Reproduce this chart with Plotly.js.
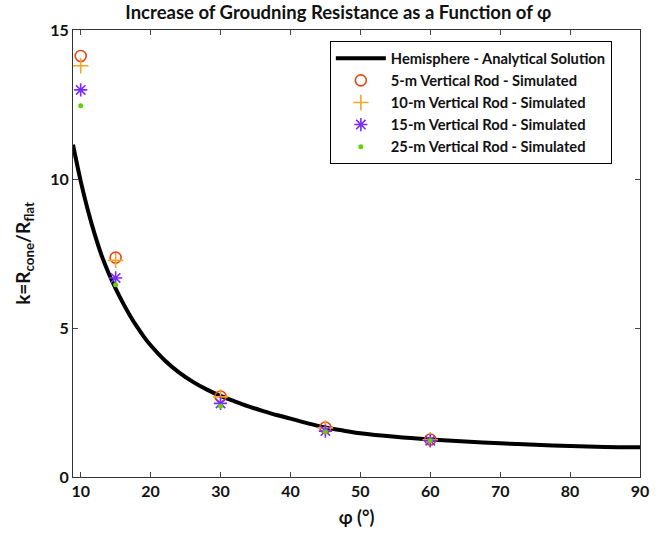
<!DOCTYPE html>
<html>
<head>
<meta charset="utf-8">
<script src="https://cdn.plot.ly/plotly-3.0.1.min.js"></script>
<style>html,body{margin:0;padding:0;background:#fff;}#chart{width:670px;height:535px;}</style>
</head>
<body>
<div id="chart"></div>
<script>
// Analytical curve
const phiCurve = [8.9, 10, 11, 12, 13, 14, 15, 16, 17, 18, 19, 20, 22, 24, 26, 28, 30, 32, 34, 36, 38, 40, 42.5, 45, 47.5, 50, 55, 60, 65, 70, 75, 80, 85, 90];
const kCurve   = [11.15, 9.93, 8.98, 8.15, 7.43, 6.84, 6.32, 5.86, 5.44, 5.06, 4.72, 4.42, 3.92, 3.52, 3.20, 2.94, 2.72, 2.54, 2.37, 2.22, 2.08, 1.96, 1.80, 1.66, 1.56, 1.47, 1.35, 1.26, 1.19, 1.13, 1.08, 1.04, 1.01, 1.00];

// Simulated points
const phiSim = [10, 15, 30, 45, 60];
const k5m  = [14.13, 7.36, 2.70, 1.66, 1.26];
const k10m = [13.80, 7.27, 2.69, 1.65, 1.25];
const k15m = [12.99, 6.68, 2.47, 1.54, 1.22];
const k25m = [12.46, 6.45, 2.37, 1.52, 1.22];

const names = ['Hemisphere - Analytical Solution', '5-m Vertical Rod - Simulated', '10-m Vertical Rod - Simulated', '15-m Vertical Rod - Simulated', '25-m Vertical Rod - Simulated'];
const xTicks = [10, 20, 30, 40, 50, 60, 70, 80, 90];
const yTicks = [0, 5, 10, 15];

const font = "Lato, 'Open Sans', sans-serif";

const traces = [
  {x: phiCurve, y: kCurve, mode: 'lines', name: names[0], line: {color: '#000', width: 4, shape: 'spline', smoothing: 0.8}},
  {x: phiSim, y: k5m, mode: 'markers', name: names[1], marker: {symbol: 'circle-open', size: 11, color: '#E8461A', line: {width: 1.6}}},
  {x: phiSim, y: k10m, mode: 'markers', name: names[2], marker: {symbol: 'cross-thin-open', size: 11, color: '#F5A623', line: {width: 1.6, color: '#F5A623'}}},
  {x: phiSim, y: k15m, mode: 'markers', name: names[3], marker: {symbol: 'asterisk-open', size: 11, color: '#7B2BFF', line: {width: 1.6, color: '#7B2BFF'}}},
  {x: phiSim, y: k25m, mode: 'markers', name: names[4], marker: {symbol: 'circle', size: 5, color: '#5FD400'}}
];

const layout = {
  width: 670, height: 535,
  margin: {l: 73, r: 30, t: 30, b: 57.5},
  paper_bgcolor: '#fff', plot_bgcolor: '#fff',
  font: {family: font, color: '#222', size: 15},
  title: {text: 'Increase of Groudning Resistance as a Function of φ', font: {family: font, size: 18.5, color: '#111', weight: 700}, x: 0.505, xanchor: 'center', y: 0.988, yanchor: 'top'},
  showlegend: true,
  legend: {x: 0.453, y: 0.975, xanchor: 'left', yanchor: 'top', bordercolor: '#000', borderwidth: 1, bgcolor: '#fff',
           font: {family: font, size: 14.7, color: '#111', weight: 700}, tracegroupgap: 0, itemwidth: 50},
  xaxis: {range: [8.9, 90], tickvals: xTicks, ticks: 'inside', ticklen: 5, tickcolor: '#444', showgrid: false, zeroline: false,
          showline: true, linecolor: '#333', linewidth: 1, mirror: 'ticks',
          tickfont: {family: font, size: 16, weight: 700, color: '#111'},
          title: {text: 'φ (°)', font: {family: font, size: 18, weight: 700, color: '#111'}, standoff: 12}},
  yaxis: {range: [0, 15], tickvals: yTicks, ticks: 'inside', ticklen: 5, tickcolor: '#444', showgrid: false, zeroline: false,
          showline: true, linecolor: '#333', linewidth: 1, mirror: 'ticks',
          tickfont: {family: font, size: 16, weight: 700, color: '#111'},
          title: {text: 'k=R<sub>cone</sub>/R<sub>flat</sub>', font: {family: font, size: 19, weight: 700, color: '#111'}, standoff: 14}}
};

Plotly.newPlot('chart', traces, layout, {staticPlot: true, displayModeBar: false});
</script>
</body>
</html>
